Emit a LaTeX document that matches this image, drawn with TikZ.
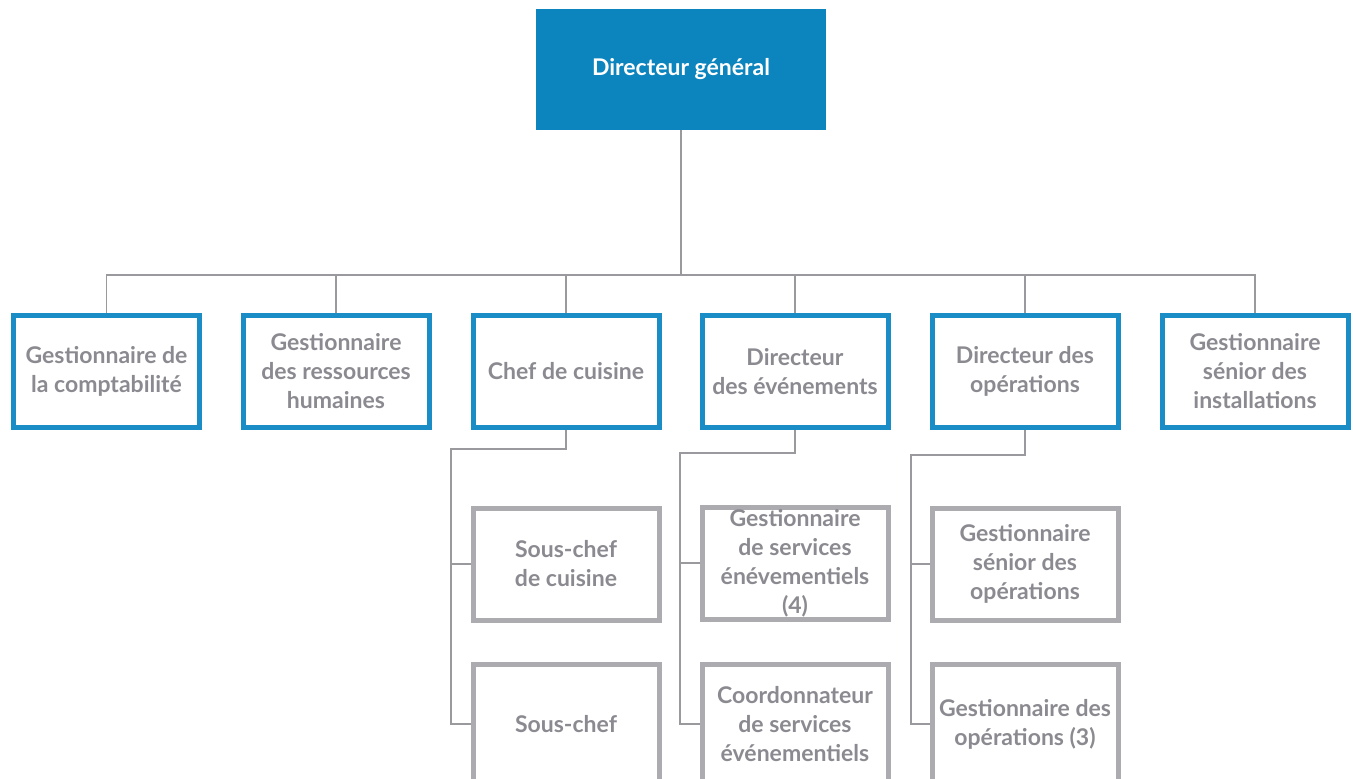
\documentclass[tikz,border=0pt]{standalone}
\usepackage{fontspec}
\setmainfont{Lato}
\usetikzlibrary{calc}
\definecolor{dgblue}{HTML}{0C84BE}
\definecolor{bstroke}{HTML}{1A8DC6}
\definecolor{gstroke}{HTML}{ABABB0}
\definecolor{txtgray}{HTML}{8A8A90}
\definecolor{conncol}{HTML}{9A9A9E}
\tikzset{
  boxtext/.style={font=\bfseries\fontsize{23}{29}\selectfont, text=txtgray, align=center, inner sep=0pt},
  bluebox/.style={boxtext, draw=bstroke, line width=5pt, minimum width=186pt, minimum height=112pt},
  graybox/.style={boxtext, draw=gstroke, line width=5pt, minimum width=186pt, minimum height=112pt},
  lowbox/.style={graybox, minimum height=120pt},
  topbox/.style={fill=dgblue, text=white, font=\bfseries\fontsize{23}{29}\selectfont, minimum width=290pt, minimum height=121pt, inner sep=0pt},
  conn/.style={draw=conncol, line width=1.5pt}
}
\begin{document}
\begin{tikzpicture}[x=1pt,y=-1pt]
\useasboundingbox (0,0) rectangle (1353,779);
\node[topbox] (dg) at (681,69.5) {Directeur général};
\node[bluebox] (b1) at (106.5,371.5) {Gestionnaire de\\la comptabilité};
\node[bluebox] (b2) at (336,371.5) {Gestionnaire\\des ressources\\humaines};
\node[bluebox] (b3) at (566,371.5) {Chef de cuisine};
\node[bluebox] (b4) at (795,371.5) {Directeur\\des événements};
\node[bluebox] (b5) at (1025,371.5) {Directeur des\\opérations};
\node[bluebox] (b6) at (1255,371.5) {Gestionnaire\\sénior des\\installations};
\node[graybox] (g31) at (566,564) {Sous-chef\\de cuisine};
\node[lowbox] (g32) at (566,724) {Sous-chef};
\node[graybox] (g41) at (795,563) {Gestionnaire\\de services\\énévementiels\\(4)};
\node[lowbox] (g42) at (795,724) {Coordonnateur\\de services\\événementiels};
\node[graybox] (g51) at (1025,564) {Gestionnaire\\sénior des\\opérations};
\node[lowbox] (g52) at (1025,724) {Gestionnaire des\\opérations (3)};
\coordinate (bus) at (681,275);
\foreach \b in {b1,b2,b3,b4,b5,b6}{
  \draw[conn] (dg.south) |- (\b.north |- bus) -- (\b.north);
}
\coordinate (c3) at (451,449);
\coordinate (c4) at (680,453);
\coordinate (c5) at (911,455);
\draw[conn] (b3.south) |- (c3) |- (g32.west);
\draw[conn] (c3 |- g31.west) -- (g31.west);
\draw[conn] (b4.south) |- (c4) |- (g42.west);
\draw[conn] (c4 |- g41.west) -- (g41.west);
\draw[conn] (b5.south) |- (c5) |- (g52.west);
\draw[conn] (c5 |- g51.west) -- (g51.west);
\end{tikzpicture}
\end{document}
